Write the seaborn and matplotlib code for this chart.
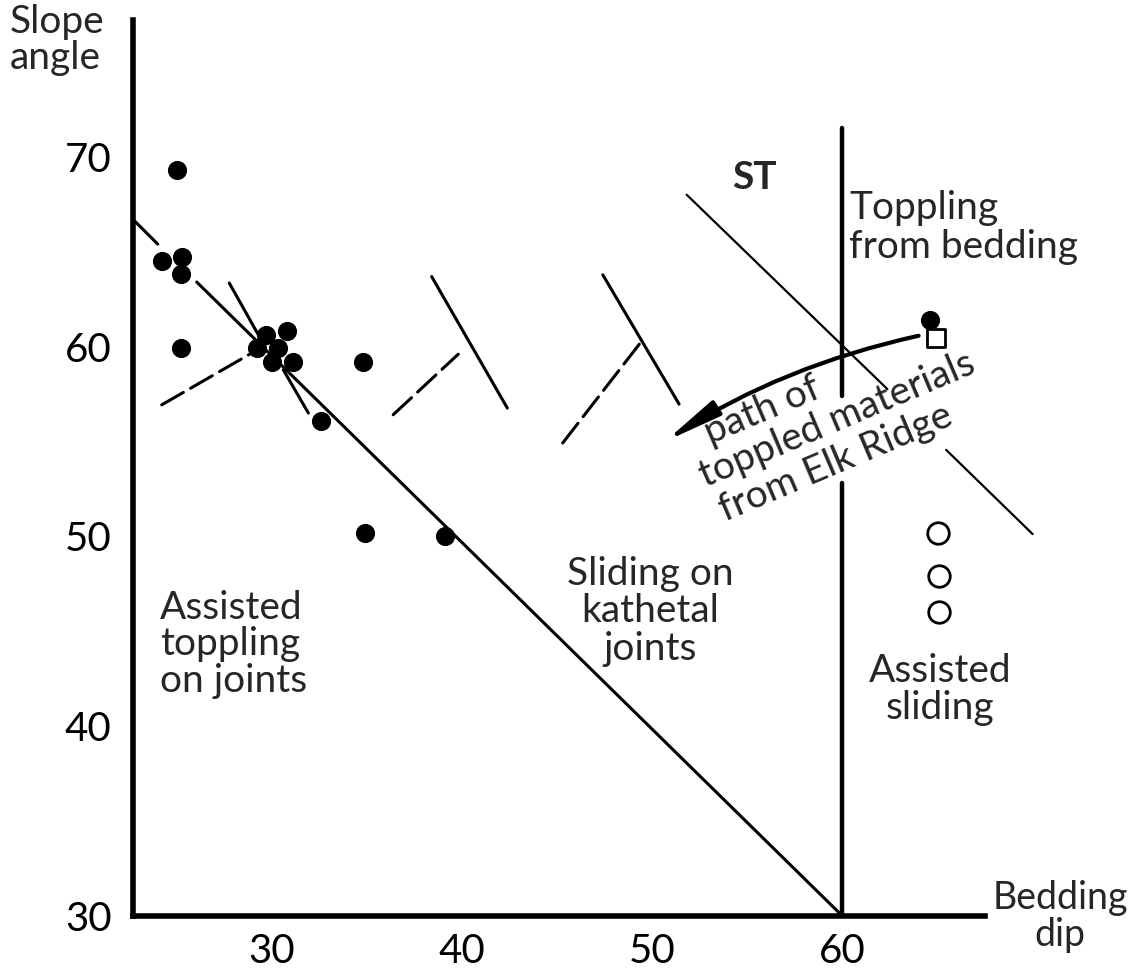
import matplotlib
matplotlib.use("Agg")
import matplotlib.pyplot as plt
import seaborn as sns
import pandas as pd
from matplotlib.patches import FancyArrowPatch

# Field sites where toppling was observed (bedding dip, slope angle in degrees)
dot_dip = [25.0, 24.2, 25.3, 25.2, 25.2, 29.7, 30.8, 29.2, 30.3, 30.0, 31.1, 34.8, 32.6, 34.9, 39.1, 64.6]
dot_slope = [69.3, 64.5, 64.7, 63.8, 59.9, 60.6, 60.8, 59.9, 59.9, 59.2, 59.2, 59.2, 56.1, 50.2, 50.0, 61.4]

# Sites with assisted sliding
ring_dip = [65.0, 65.1, 65.1]
ring_slope = [50.2, 47.9, 46.0]

# Elk Ridge source position
elk_dip = [64.9]
elk_slope = [60.45]

# Boundary between toppling on joints and sliding on kathetal joints
kathetal_upper_dip = [22.7, 24.0]
kathetal_upper_slope = [66.7, 65.4]
kathetal_lower_dip = [26.05, 60.0]
kathetal_lower_slope = [63.4, 30.0]

# Short steep joint trace through the cluster
joint_a_dip = [27.76, 29.29]
joint_a_slope = [63.35, 60.62]
joint_b_dip = [30.60, 31.92]
joint_b_slope = [58.78, 56.50]

# Joint symbols (solid = joint set, dashed = normal)
sym_dash1_dip = [24.21, 28.94]
sym_dash1_slope = [56.93, 59.66]
sym_solid2_dip = [38.40, 42.38]
sym_solid2_slope = [63.69, 56.76]
sym_dash2_dip = [36.38, 39.80]
sym_dash2_slope = [56.41, 59.60]
sym_solid3_dip = [47.40, 51.41]
sym_solid3_slope = [63.78, 56.97]
sym_dash3_dip = [45.29, 49.43]
sym_dash3_slope = [54.92, 60.27]

# ST boundary
st_upper_dip = [51.81, 62.36]
st_upper_slope = [68.00, 57.76]
st_lower_dip = [65.45, 70.0]
st_lower_slope = [54.56, 50.12]

# Bedding dip = 60 boundary
bed_upper_dip = [60.0, 60.0]
bed_upper_slope = [71.5, 57.4]
bed_lower_dip = [60.0, 60.0]
bed_lower_slope = [52.8, 30.0]

# Path of toppled materials (start, tip)
path_dip = [64.0, 50.67]
path_slope = [60.57, 55.0]

x_ticks = [30, 40, 50, 60]
y_ticks = [30, 40, 50, 60, 70]

sns.set_style("white")
plt.rcParams["font.family"] = ["Lato", "DejaVu Sans"]
plt.rcParams["lines.scale_dashes"] = False

fig = plt.figure(figsize=(11.31, 9.71), dpi=100)
ax = fig.add_axes([0.1176, 0.0566, 0.8291, 0.9227])
ax.set_xlim(22.7, 72)
ax.set_ylim(30, 77.2)

ink = "black"
thin = dict(color=ink, lw=2.2, solid_capstyle="round")
dashed = dict(color=ink, lw=2.2, linestyle=(0, (18, 6)), dash_capstyle="round")

ax.plot(kathetal_upper_dip, kathetal_upper_slope, **thin)
ax.plot(kathetal_lower_dip, kathetal_lower_slope, **thin)
ax.plot(joint_a_dip, joint_a_slope, **thin)
ax.plot(joint_b_dip, joint_b_slope, **thin)
ax.plot(sym_dash1_dip, sym_dash1_slope, **dashed)
ax.plot(sym_solid2_dip, sym_solid2_slope, **thin)
ax.plot(sym_dash2_dip, sym_dash2_slope, **dashed)
ax.plot(sym_solid3_dip, sym_solid3_slope, **thin)
ax.plot(sym_dash3_dip, sym_dash3_slope, **dashed)
ax.plot(st_upper_dip, st_upper_slope, color=ink, lw=1.6)
ax.plot(st_lower_dip, st_lower_slope, color=ink, lw=1.6)
ax.plot(bed_upper_dip, bed_upper_slope, color=ink, lw=3.2, solid_capstyle="round")
ax.plot(bed_lower_dip, bed_lower_slope, color=ink, lw=3.2, solid_capstyle="round")

dots = pd.DataFrame({"dip": dot_dip, "slope": dot_slope})
rings = pd.DataFrame({"dip": ring_dip, "slope": ring_slope})
elk = pd.DataFrame({"dip": elk_dip, "slope": elk_slope})
sns.scatterplot(data=dots, x="dip", y="slope", ax=ax, color=ink, s=190,
                linewidth=0, zorder=5, legend=False)
sns.scatterplot(data=rings, x="dip", y="slope", ax=ax, facecolor="white",
                edgecolor=ink, s=240, linewidth=2, zorder=5, legend=False)
sns.scatterplot(data=elk, x="dip", y="slope", ax=ax, marker="s", facecolor="white",
                edgecolor=ink, s=150, linewidth=2, zorder=5, legend=False)

arrow = FancyArrowPatch((path_dip[0], path_slope[0]), (path_dip[1], path_slope[1]),
                        connectionstyle="arc3,rad=0.09",
                        arrowstyle="-|>,head_length=34,head_width=5",
                        mutation_scale=1, lw=3, color=ink,
                        shrinkA=0, shrinkB=0, zorder=6)
ax.add_patch(arrow)

# Axes styling
for side in ("top", "right"):
    ax.spines[side].set_visible(False)
for side in ("left", "bottom"):
    ax.spines[side].set_linewidth(4)
    ax.spines[side].set_color(ink)
ax.spines["left"].set_bounds(30, 77.2)
ax.spines["bottom"].set_bounds(22.7, 67.5)

ax.set_xticks(x_ticks)
ax.set_yticks(y_ticks)
ax.set_yticks(y_ticks, minor=True)
ax.yaxis.remove_overlapping_locs = False
ax.tick_params(axis="x", direction="inout", length=20, width=2, colors=ink,
               labelsize=29, pad=2)
ax.tick_params(axis="y", which="major", direction="out", length=15, width=2,
               colors=ink, labelsize=29, pad=0.5)
ax.tick_params(axis="y", which="minor", direction="in", length=8, width=2,
               colors=ink)
# the corner at 30 carries only its label
ax.yaxis.get_major_ticks()[0].tick1line.set_visible(False)
ax.yaxis.get_minor_ticks()[0].tick1line.set_visible(False)
ax.set_xlabel("")
ax.set_ylabel("")
ax.grid(False)

fs = 28
fig.text(10 / 1131, 1 - 4 / 971, "Slope\nangle", ha="left", va="top",
         fontsize=fs, linespacing=1.0)
ax.text(71.45, 31.9, "Bedding\ndip", ha="center", va="top", fontsize=27,
        multialignment="center", linespacing=1.05, clip_on=False)

ax.text(24.12, 47.19, "Assisted\ntoppling\non joints", ha="left", va="top",
        fontsize=fs, linespacing=1.02)
ax.text(49.88, 48.98, "Sliding on\nkathetal\njoints", ha="center", va="top",
        fontsize=fs, multialignment="center", linespacing=1.05)
ax.text(65.13, 43.87, "Assisted\nsliding", ha="center", va="top",
        fontsize=fs, multialignment="center", linespacing=1.05)
ax.text(60.34, 68.26, "Toppling\nfrom bedding", ha="left", va="top",
        fontsize=fs, linespacing=1.1)
ax.text(54.19, 69.84, "ST", ha="left", va="top", fontsize=fs, fontweight="bold")

rot = 23
ax.text(53.04, 54.83, "path of", rotation=rot, rotation_mode="anchor",
        ha="left", va="baseline", fontsize=fs)
ax.text(52.77, 52.56, "toppled materials", rotation=rot, rotation_mode="anchor",
        ha="left", va="baseline", fontsize=fs)
ax.text(53.83, 50.77, "from Elk Ridge", rotation=rot, rotation_mode="anchor",
        ha="left", va="baseline", fontsize=fs)

fig.savefig("out.png", dpi=100, facecolor="white")
